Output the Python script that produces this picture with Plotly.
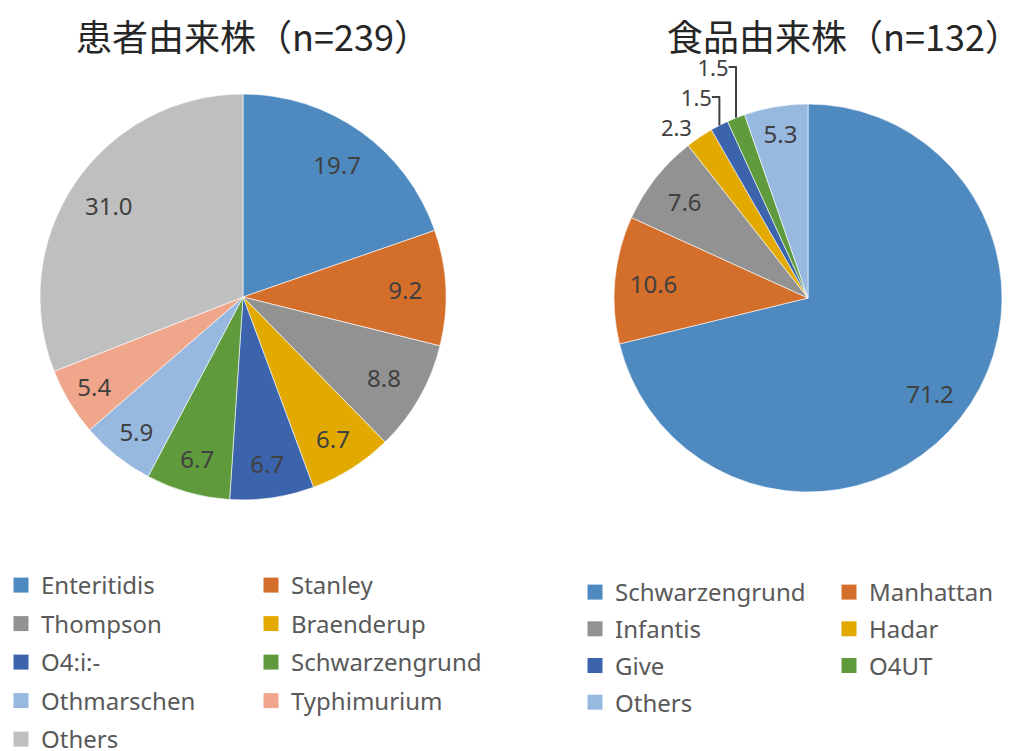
import plotly.graph_objects as go

W, H = 1014, 751

patient_labels = ["Enteritidis", "Stanley", "Thompson", "Braenderup", "O4:i:-",
                  "Schwarzengrund", "Othmarschen", "Typhimurium", "Others"]
patient_values = [19.7, 9.2, 8.8, 6.7, 6.7, 6.7, 5.9, 5.4, 31.0]
patient_colors = ["#4E8AC0", "#D46E2B", "#929292", "#E2AA00", "#3B64AD",
                  "#5F9A3D", "#97B9E0", "#F0A68A", "#BFBFBF"]

food_labels = ["Schwarzengrund", "Manhattan", "Infantis", "Hadar", "Give", "O4UT", "Others"]
food_values = [71.2, 10.6, 7.6, 2.3, 1.5, 1.5, 5.3]
food_colors = ["#4E8AC0", "#D46E2B", "#929292", "#E2AA00", "#3B64AD", "#5F9A3D", "#97B9E0"]
food_textpos = ["inside", "inside", "inside", "outside", "outside", "outside", "inside"]

title_left = "患者由来株（n=239）"
title_right = "食品由来株（n=132）"

LABEL_FONT = dict(family="Noto Sans, Open Sans, sans-serif", size=24, color="#404040")
OUT_FONT = dict(family="Noto Sans, Open Sans, sans-serif", size=22, color="#404040")
LEG_FONT = dict(family="Noto Sans, Open Sans, sans-serif", size=24, color="#595959")
CLEAR = "rgba(0,0,0,0)"


def px(x0, x1):
    return [x0 / W, x1 / W]


def py(top, bottom):
    return [1 - bottom / H, 1 - top / H]


fig = go.Figure()


def add_pie(labels, values, colors, textpos, dom):
    # coloured pie without text
    fig.add_trace(go.Pie(
        labels=labels, values=values,
        marker=dict(colors=colors, line=dict(color="white", width=0.6)),
        sort=False, direction="clockwise", rotation=0,
        textinfo="none", hoverinfo="label+value",
        domain=dom, showlegend=False,
    ))
    # transparent ring on top carrying the data labels (places them at ~0.8 r)
    fig.add_trace(go.Pie(
        labels=labels, values=values, hole=0.6,
        marker=dict(colors=[CLEAR] * len(values), line=dict(color=CLEAR, width=0)),
        sort=False, direction="clockwise", rotation=0,
        texttemplate="%{value:.1f}", textposition=textpos,
        insidetextorientation="horizontal",
        textfont=LABEL_FONT, insidetextfont=LABEL_FONT, outsidetextfont=OUT_FONT,
        hoverinfo="skip", domain=dom, showlegend=False,
    ))


add_pie(patient_labels, patient_values, patient_colors, "inside",
        dict(x=px(40, 446), y=py(94, 500)))
add_pie(food_labels, food_values, food_colors, food_textpos,
        dict(x=px(614, 1002), y=py(104, 492)))


# legend entries: two columns per pie, each column its own legend
def add_legend_items(labels, colors, legend_names):
    for i, (lab, col) in enumerate(zip(labels, colors)):
        fig.add_trace(go.Scatter(
            x=[None], y=[None], mode="markers", name=lab,
            marker=dict(symbol="square", size=15, color=col, line=dict(width=0)),
            legend=legend_names[i % 2], legendgroup=f"{legend_names[0]}_{i}",
            showlegend=True, hoverinfo="skip",
        ))


add_legend_items(patient_labels, patient_colors, ["legend", "legend2"])
add_legend_items(food_labels, food_colors, ["legend3", "legend4"])

title_font = dict(family="Noto Sans CJK JP, sans-serif", size=36, color="#262626")
fig.add_annotation(text=title_left, x=253 / W, y=1 - 35 / H, xref="paper", yref="paper",
                   showarrow=False, font=title_font, xanchor="center", yanchor="middle")
fig.add_annotation(text=title_right, x=844 / W, y=1 - 35 / H, xref="paper", yref="paper",
                   showarrow=False, font=title_font, xanchor="center", yanchor="middle")


def leg(xpix, ytop, gap):
    return dict(orientation="v", xref="container", yref="container",
                x=xpix / W, y=1 - ytop / H, xanchor="left", yanchor="top",
                font=LEG_FONT, traceorder="grouped", tracegroupgap=gap,
                bgcolor=CLEAR, itemclick=False, itemdoubleclick=False)


fig.update_layout(
    width=W, height=H,
    margin=dict(l=0, r=0, t=0, b=0, autoexpand=False),
    paper_bgcolor="white", plot_bgcolor="white",
    xaxis=dict(visible=False), yaxis=dict(visible=False),
    legend=leg(1, 563, 4.3),
    legend2=leg(251, 563, 4.3),
    legend3=leg(575, 570, 2.5),
    legend4=leg(829, 570, 2.5),
)

fig.write_html("out.html", config={"displayModeBar": False},
               post_script="document.body.style.margin='0';")
